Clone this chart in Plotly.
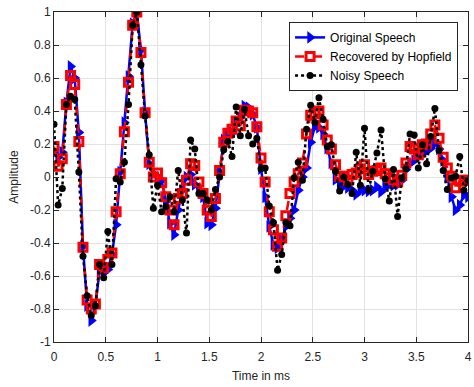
import plotly.graph_objects as go

dt = 0.04
n_points = 101
time_ms = [round(i * dt, 2) for i in range(n_points)]

original = [0.15, 0.12, 0.15, 0.45, 0.67, 0.6, 0.27, -0.42, -0.78, -0.87,
            -0.78, -0.57, -0.58, -0.56, -0.47, -0.29, 0.03, 0.33, 0.61, 0.93,
            1.0, 0.77, 0.39, 0.08, 0.02, 0.0, -0.02, -0.15, -0.28, -0.35,
            -0.2, -0.08, 0.0, 0.015, -0.045, -0.08, -0.12, -0.28, -0.29, -0.19,
            0.025, 0.225, 0.26, 0.27, 0.33, 0.36, 0.43, 0.42, 0.38, 0.3,
            0.05, -0.12, -0.3, -0.41, -0.43, -0.38, -0.3, -0.25, -0.2, -0.08,
            0.0, 0.055, 0.21, 0.305, 0.3, 0.26, 0.175, 0.085, -0.015, -0.045,
            -0.055, -0.065, -0.08, -0.105, -0.08, -0.08, -0.085, -0.08, -0.06, -0.09,
            -0.06, -0.045, -0.05, -0.045, -0.02, 0.045, 0.085, 0.1, 0.125, 0.14,
            0.16, 0.175, 0.205, 0.17, 0.1, 0.0, -0.12, -0.2, -0.17, -0.11,
            -0.12]

recovered = [0.185, 0.065, 0.11, 0.44, 0.615, 0.56, 0.215, -0.425, -0.745, -0.8,
             -0.77, -0.53, -0.55, -0.5, -0.46, -0.21, 0.02, 0.275, 0.575, 0.92,
             1.0, 0.755, 0.39, 0.09, 0.0, 0.025, -0.035, -0.12, -0.2, -0.29,
             -0.13, -0.1, -0.02, 0.08, 0.07, -0.03, -0.1, -0.2, -0.24, -0.13,
             0.04, 0.21, 0.265, 0.29, 0.34, 0.31, 0.405, 0.4, 0.39, 0.305,
             0.115, -0.03, -0.21, -0.32, -0.42, -0.37, -0.235, -0.1, -0.03, 0.02,
             0.085, 0.26, 0.375, 0.385, 0.4, 0.315, 0.225, 0.17, 0.075, 0.005,
             0.005, -0.02, 0.015, 0.025, 0.05, 0.075, 0.015, 0.035, 0.04, 0.055,
             0.02, -0.005, -0.015, -0.03, 0.01, 0.085, 0.185, 0.17, 0.135, 0.195,
             0.2, 0.26, 0.315, 0.235, 0.12, 0.055, 0.005, -0.065, -0.025, -0.02,
             -0.02]

noisy = [0.32, -0.17, -0.07, 0.44, 0.49, 0.47, 0.03, -0.48, -0.72, -0.84,
         -0.78, -0.53, -0.61, -0.33, -0.53, -0.01, -0.03, 0.09, 0.44, 0.92,
         1.0, 0.68, 0.37, 0.135, -0.19, -0.05, -0.21, -0.18, -0.12, -0.21,
         0.04, -0.14, -0.34, 0.225, 0.17, -0.1, -0.1, -0.14, -0.2, -0.075,
         0.0, 0.165, 0.215, 0.125, 0.425, 0.25, 0.41, 0.25, 0.2, 0.235,
         0.05, 0.055, -0.175, -0.275, -0.565, -0.47, -0.275, -0.295, -0.005, 0.09,
         -0.02, 0.29, 0.435, 0.33, 0.48, 0.35, 0.185, 0.195, 0.035, -0.085,
         0.0, -0.045, -0.1, 0.15, -0.05, 0.295, -0.08, 0.035, 0.145, 0.285,
         -0.01, -0.145, 0.045, -0.24, -0.005, 0.05, 0.26, 0.255, 0.055, 0.195,
         0.08, 0.245, 0.415, 0.16, 0.04, -0.075, -0.005, 0.005, 0.125, -0.08,
         -0.02]

x_ticks = [0, 0.5, 1, 1.5, 2, 2.5, 3, 3.5, 4]
x_tick_labels = ["0", "0.5", "1", "1.5", "2", "2.5", "3", "3.5", "4"]
y_ticks = [-1, -0.8, -0.6, -0.4, -0.2, 0, 0.2, 0.4, 0.6, 0.8, 1]
y_tick_labels = ["-1", "-0.8", "-0.6", "-0.4", "-0.2", "0", "0.2", "0.4", "0.6", "0.8", "1"]

font_family = "Liberation Sans, Arial, sans-serif"

fig = go.Figure()
fig.add_trace(go.Scatter(
    x=time_ms, y=original, name="Original Speech", mode="lines+markers",
    line=dict(color="#0000ff", width=2.5),
    marker=dict(symbol="triangle-right", size=11, color="#0000ff"),
))
fig.add_trace(go.Scatter(
    x=time_ms, y=recovered, name="Recovered by Hopfield", mode="lines+markers",
    line=dict(color="#ff0000", width=2.5, dash="dash"),
    marker=dict(symbol="square-open", size=8, color="#ff0000", line=dict(width=3, color="#ff0000")),
))
fig.add_trace(go.Scatter(
    x=time_ms, y=noisy, name="Noisy Speech", mode="lines+markers",
    line=dict(color="#000000", width=2.5, dash="dot"),
    marker=dict(symbol="circle", size=7, color="#000000"),
))

axis_common = dict(
    showline=True, linecolor="#262626", linewidth=1, mirror="ticks",
    ticks="inside", ticklen=5, tickcolor="#262626",
    showgrid=True, gridcolor="#e3e3e3", gridwidth=1,
    zeroline=False,
    ticklabeloverflow="allow",
    tickfont=dict(family=font_family, size=12, color="#262626"),
)

fig.update_layout(
    width=474, height=387,
    margin=dict(l=54, r=2, t=12, b=45),
    paper_bgcolor="white", plot_bgcolor="white",
    font=dict(family=font_family, size=12, color="#262626"),
    xaxis=dict(range=[0, 4], tickvals=x_ticks, ticktext=x_tick_labels,
               ticklabelstandoff=4,
               title=dict(text="Time in ms", font=dict(size=12, color="#262626"), standoff=8),
               **axis_common),
    yaxis=dict(range=[-1, 1], tickvals=y_ticks, ticktext=y_tick_labels,
               title=dict(text="Amplitude", font=dict(size=12, color="#262626"), standoff=8),
               **axis_common),
    legend=dict(x=0.976, y=0.97, xanchor="right", yanchor="top",
                bgcolor="white", bordercolor="#262626", borderwidth=1,
                font=dict(family=font_family, size=12, color="#000000"),
                tracegroupgap=0, itemwidth=30),
    showlegend=True,
)

fig.write_html("out.html")
